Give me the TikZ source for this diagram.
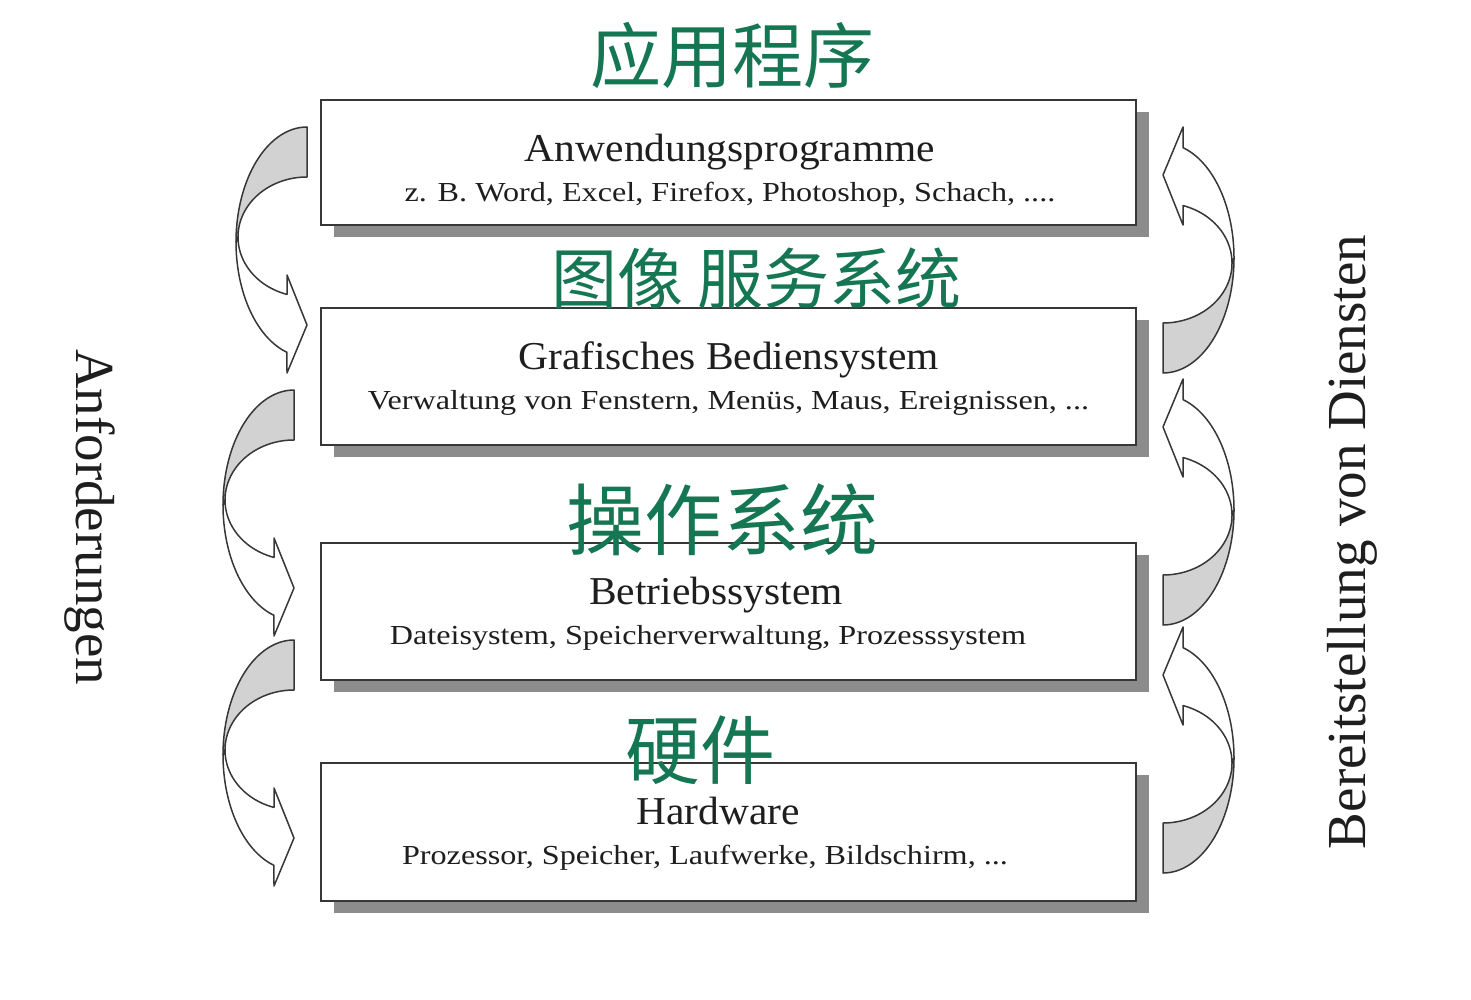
\documentclass[tikz,border=0pt]{standalone}
\usepackage{graphicx}
\usepackage{fontspec}
\setmainfont{Liberation Serif}
\newfontfamily\cjk{Noto Sans CJK SC}
\usetikzlibrary{shadows,calc}
\definecolor{pen}{RGB}{20,118,82}
\definecolor{txt}{RGB}{30,30,30}
\definecolor{edge}{RGB}{55,55,55}
\definecolor{band}{RGB}{210,210,210}
\newcommand{\subx}[1]{\scalebox{1.17}[1]{#1}}
\newcommand{\ttlx}[1]{\scalebox{1.05}[1]{#1}}
\newcommand{\mycurvedarrow}{%
  \filldraw[arrowline, fill=band] (0,0)
    -- plot[domain=0:90,samples=40] ({-71*sin(\x)},{115-115*cos(\x)})
    -- plot[domain=90:0,samples=40] ({-69*sin(\x)},{110-60*cos(\x)})
    -- cycle;
  \filldraw[arrowline, fill=white] (-71,115)
    -- plot[domain=90:163.6,samples=40] ({-71*sin(\x)},{115-115*cos(\x)})
    -- (-20,246) -- (0,198) -- (-20,148) -- (-20,167.4)
    -- plot[domain=163.15:90,samples=40] ({-69*sin(\x)},{110-60*cos(\x)})
    -- cycle;
}
\begin{document}
\begin{tikzpicture}[x=1pt,y=-1pt,
  layerbox/.style={draw=edge, line width=1.8pt, fill=white, inner sep=0pt,
    minimum width=815pt,
    drop shadow={shadow xshift=13pt, shadow yshift=-12pt, fill=black!45, opacity=1}},
  ttl/.style={font=\fontsize{39.5}{46}\selectfont, text=txt, anchor=base, inner sep=0pt},
  sub/.style={font=\fontsize{27.5}{32}\selectfont, text=txt, anchor=base, inner sep=0pt},
  side/.style={font=\fontsize{55}{60}\selectfont, text=txt, inner sep=0pt},
  note/.style={font=\cjk, text=pen, inner sep=0pt},
  arrowline/.style={draw=edge, line width=1.5pt, line join=round}]
\useasboundingbox[fill=white] (0,0) rectangle (1471,1000);

% boxes
\node[layerbox, minimum height=125pt] (b1) at (728.5,162.5) {};
\node[layerbox, minimum height=137pt] (b2) at (728.5,376.5) {};
\node[layerbox, minimum height=137pt] (b3) at (728.5,611.5) {};
\node[layerbox, minimum height=138pt] (b4) at (728.5,832) {};

% box texts
\node[ttl] (t1) at ($(b1.north)+(1.5,62)$) {\ttlx{Anwendungsprogramme}};
\node[sub] (s1) at ($(b1.north)+(1.5,102)$) {\subx{z. B. Word, Excel, Firefox, Photoshop, Schach, ....}};
\node[ttl] (t2) at ($(b2.north)+(0,62)$) {\ttlx{Grafisches Bediensystem}};
\node[sub] (s2) at ($(b2.north)+(0,102)$) {\subx{Verwaltung von Fenstern, Menüs, Maus, Ereignissen, ...}};
\node[ttl] (t3) at ($(b3.north)+(-12.5,62)$) {\ttlx{Betriebssystem}};
\node[sub] (s3) at ($(b3.north)+(-20.5,102)$) {\subx{Dateisystem, Speicherverwaltung, Prozesssystem}};
\node[ttl] (t4) at ($(b4.north)+(-10.5,62)$) {\ttlx{Hardware}};
\node[sub] (s4) at ($(b4.north)+(-23.5,102)$) {\subx{Prozessor, Speicher, Laufwerke, Bildschirm, ...}};

% side labels
\node[side, rotate=-90] (anf) at (90,517) {Anforderungen};
\node[side, rotate=90] (ber) at (1352,542) {Bereitstellung von Diensten};

% curved arrows, left (requests)
\begin{scope}[shift={(307,127)}] \mycurvedarrow \end{scope}
\begin{scope}[shift={(294,390)}] \mycurvedarrow \end{scope}
\begin{scope}[shift={(294,640)}] \mycurvedarrow \end{scope}
% curved arrows, right (services)
\begin{scope}[shift={(1163,373)}, rotate=180] \mycurvedarrow \end{scope}
\begin{scope}[shift={(1163,625)}, rotate=180] \mycurvedarrow \end{scope}
\begin{scope}[shift={(1163,873)}, rotate=180] \mycurvedarrow \end{scope}

% handwritten notes
\node[note, font=\cjk\fontsize{71}{75}\selectfont] (n1) at (732,55) {应用程序};
\node[note, font=\cjk\fontsize{66}{70}\selectfont] (n2) at (756,278) {图像\hspace{14pt}服务系统};
\node[note, font=\cjk\fontsize{78}{82}\selectfont] (n3) at (722,520) {操作系统};
\node[note, font=\cjk\fontsize{75}{80}\selectfont] (n4) at (700,750) {硬件};
\end{tikzpicture}
\end{document}
